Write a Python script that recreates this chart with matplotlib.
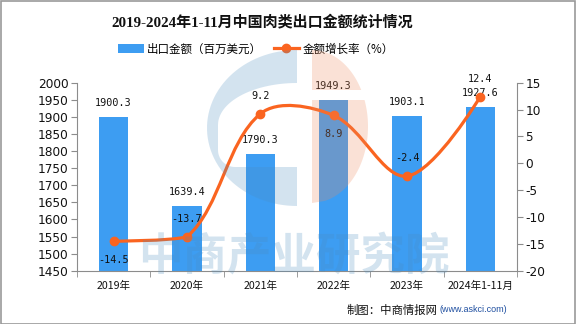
import numpy as np
import matplotlib
matplotlib.use("Agg")
import matplotlib.pyplot as plt
from matplotlib.path import Path
from matplotlib.patches import PathPatch, Polygon, Rectangle, Patch
from matplotlib.lines import Line2D

plt.rcParams['axes.unicode_minus'] = False
plt.rcParams['font.family'] = ['DejaVu Sans', 'Noto Sans CJK SC']

# ---------------- data ----------------
categories = ["2019年", "2020年", "2021年", "2022年", "2023年", "2024年1-11月"]
export_value = [1900.3, 1639.4, 1790.3, 1949.3, 1903.1, 1927.6]
growth_rate = [-14.5, -13.7, 9.2, 8.9, -2.4, 12.4]
growth_label_pos = ["below", "above", "above", "below", "above", "above"]
left_ticks = [1450, 1500, 1550, 1600, 1650, 1700, 1750, 1800, 1850, 1900, 1950, 2000]
right_ticks = [-20, -15, -10, -5, 0, 5, 10, 15]

title = "2019-2024年1-11月中国肉类出口金额统计情况"
legend_bar = "出口金额（百万美元）"
legend_line = "金额增长率（%）"
source_cn = "制图：中商情报网"
source_url = "(www.askci.com)"
watermark = "中商产业研究院"

BAR = '#3d9df2'
LINE = '#fa6420'
SPINE = '#8c8c8c'
CJK = ['Noto Sans CJK SC', 'DejaVu Sans']
SMOOTH = 0.35

W, H = 576, 324
fig = plt.figure(figsize=(W / 100, H / 100), dpi=100)
fig.patch.set_facecolor('white')

ax = fig.add_axes([77 / W, 1 - 270.7 / H, 440 / W, 188 / H])
ax2 = ax.twinx()

x = np.arange(len(categories))
ax.bar(x, [v - 1450 for v in export_value], bottom=1450, width=0.4, color=BAR, zorder=2)
ax.set_xlim(-0.5, len(categories) - 0.5)
ax.set_ylim(1450, 2000)
ax.set_yticks(left_ticks)
ax2.set_ylim(-20, 15)
ax2.set_yticks(right_ticks)

for a in (ax, ax2):
    for s in a.spines.values():
        s.set_color(SPINE)
    a.spines['top'].set_visible(False)
    a.set_facecolor('none')
ax.spines['right'].set_visible(False)
ax2.spines['left'].set_visible(False)
ax2.spines['bottom'].set_visible(False)

ax.tick_params(axis='y', length=4, color=SPINE, labelsize=8.7, labelcolor='#111', pad=2)
ax2.tick_params(axis='y', length=4, color=SPINE, labelsize=8.7, labelcolor='#111', pad=2)
ax.set_xticks(x)
ax.set_xticklabels(categories, fontsize=7.6, family=CJK, color='#111')
ax.tick_params(axis='x', which='major', length=0, pad=7)
ax.set_xticks(np.arange(-0.5, len(categories) + 0.5, 1.0), minor=True)
ax.tick_params(axis='x', which='minor', length=4, color=SPINE)

# bar labels
for xi, v in zip(x, export_value):
    ax.annotate(f"{v:.1f}", (xi, v), xytext=(0, 14), textcoords='offset pixels',
                ha='center', va='center', fontsize=7.3, family='DejaVu Sans Mono', color='#111', zorder=3)

# smooth line: bezier control points computed in display space (bounded by the points' box)
P = ax2.transData.transform(np.column_stack([x, growth_rate]).astype(float))
lo, hi = P.min(axis=0), P.max(axis=0)
n = len(P)
verts = [tuple(P[0])]
codes = [Path.MOVETO]
cp0 = P[0].copy()
for i in range(1, n):
    p = P[i]
    if i == n - 1:
        cp1 = p.copy()
        v = np.zeros(2)
        r_next = 0.5
    else:
        prv, nxt = P[i - 1], P[i + 1]
        v = nxt - prv
        d0 = np.hypot(*(p - prv))
        d1 = np.hypot(*(nxt - p))
        r_next = d1 / (d0 + d1)
        cp1 = p - v * SMOOTH * (1 - r_next)
    cp0 = np.clip(cp0, lo, hi)
    cp1 = np.clip(cp1, lo, hi)
    verts += [tuple(cp0), tuple(cp1), tuple(p)]
    codes += [Path.CURVE4] * 3
    cp0 = p + v * SMOOTH * r_next
inv = ax2.transData.inverted()
verts = [tuple(inv.transform(vv)) for vv in verts]
ax2.add_patch(PathPatch(Path(verts, codes), facecolor='none', edgecolor=LINE, lw=2.3, zorder=4))
ax2.plot(x, growth_rate, linestyle='none', marker='o', markersize=6, color=LINE, zorder=5)
for xi, v, pos in zip(x, growth_rate, growth_label_pos):
    dy = -19 if pos == "below" else 18
    ax2.annotate(f"{v:.1f}", (xi, v), xytext=(0, dy), textcoords='offset pixels',
                 ha='center', va='center', fontsize=7.3, family='DejaVu Sans Mono', color='#111', zorder=3)

# title
fig.text(262 / W, 1 - 22 / H, title, ha='center', va='center', fontsize=10.8, fontweight='bold',
         family=['Liberation Serif', 'Noto Sans CJK SC'], color='#111')

# legend
handles = [Patch(facecolor=BAR, edgecolor='none'),
           Line2D([0], [0], color=LINE, lw=2.3, marker='o', markersize=6)]
fig.legend(handles, [legend_bar, legend_line], loc='center', bbox_to_anchor=(256 / W, 1 - 49 / H),
           ncol=2, frameon=False, prop={'family': CJK, 'size': 8.3}, handlelength=2.2,
           handleheight=0.8, handletextpad=0.3, columnspacing=1.0, borderaxespad=0)

# source
fig.text(438 / W, 1 - 310 / H, source_cn, ha='right', va='center', fontsize=8.2, family=CJK, color='#111')
fig.text(440 / W, 1 - 310 / H, source_url, ha='left', va='center', fontsize=6.5,
         family=['Liberation Sans Narrow', 'Liberation Sans'], color='#1f4fa0')

# watermark overlay (figure pixel coords)
ov = fig.add_axes([0, 0, 1, 1], zorder=10)
ov.set_xlim(0, W)
ov.set_ylim(H, 0)
ov.axis('off')
ov.patch.set_alpha(0)

# blue C shape
t = np.linspace(np.pi / 2, 3 * np.pi / 2, 60)
outer = np.column_stack([297 + 90 * np.cos(t), 128 - 78 * np.sin(t)])
t2 = np.linspace(np.pi / 2, np.pi, 30)
inner_top = np.column_stack([297 + 79 * np.cos(t2), 125 - 42 * np.sin(t2)])
t3 = np.linspace(np.pi, 1.5 * np.pi, 15)
inner_bot = np.column_stack([235 + 17 * np.cos(t3), 150 - 17 * np.sin(t3)])
inner = np.vstack([inner_top, [[218, 150]], inner_bot, [[297, 167]]])
cshape = np.vstack([outer, [[297, 167]], inner[::-1]])
ov.add_patch(Polygon(cshape, closed=True, facecolor='#4a8cbf', edgecolor='none', alpha=0.24))

# orange half disc with white band
def half(y0, y1):
    ys = np.linspace(y0, y1, 50)
    xs = 312 + 56 * np.sqrt(np.clip(1 - ((ys - 126.5) / 76.5) ** 2, 0, 1))
    return np.vstack([[[312, y0]], np.column_stack([xs, ys]), [[312, y1]]])
for y0, y1 in [(50, 90), (100, 203)]:
    ov.add_patch(Polygon(half(y0, y1), closed=True, facecolor='#ee8a5c', edgecolor='none', alpha=0.25))

ov.text(294, 256, watermark, ha='center', va='center', fontsize=32, fontweight='bold',
        family=CJK, color='#4a8cbf', alpha=0.24)

# figure border
fig.patches.append(Rectangle((0.5 / W, 0.5 / H), 1 - 1.5 / W, 1 - 1.5 / H, transform=fig.transFigure,
                             fill=False, edgecolor='#999999', lw=1.2, zorder=20))

fig.savefig('out.png', dpi=100)
